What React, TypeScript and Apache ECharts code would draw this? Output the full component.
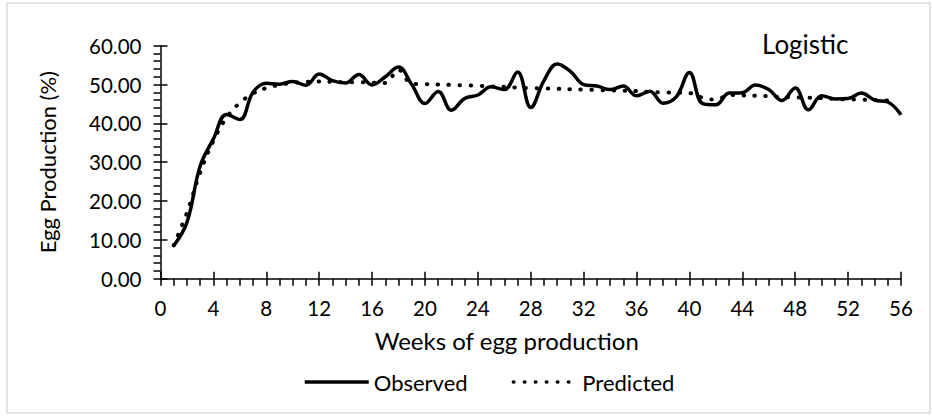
import React, { useEffect, useRef } from "react";
import * as echarts from "echarts";

const weeks = [1, 2, 3, 4, 5, 6, 7, 8, 9, 10, 11, 12, 13, 14, 15, 16, 17, 18, 19, 20, 21, 22, 23, 24, 25, 26, 27, 28, 29, 30, 31, 32, 33, 34, 35, 36, 37, 38, 39, 40, 41, 42, 43, 44, 45, 46, 47, 48, 49, 50, 51, 52, 53, 54, 55, 56];

const observed = [
  8.5, 14.5, 29.0, 36.0, 42.3, 41.0, 48.0, 50.3, 50.1, 50.8,
  49.8, 52.7, 51.0, 50.4, 52.6, 49.9, 52.0, 54.5, 50.0, 45.1,
  48.2, 43.4, 46.4, 47.3, 49.4, 48.7, 53.2, 44.1, 51.0, 55.3,
  53.4, 50.0, 49.6, 48.7, 49.6, 47.1, 48.3, 45.2, 46.8, 53.1,
  45.1, 44.8, 47.8, 47.9, 49.9, 48.7, 45.9, 49.1, 43.5, 47.1,
  46.3, 46.4, 47.8, 46.0, 45.5, 42.2,
];

const predicted = [
  8.6, 17.0, 27.3, 35.5, 41.5, 45.3, 47.7, 49.1, 49.9, 50.4,
  50.7, 50.8, 50.7, 50.6, 50.6, 50.5, 50.4, 53.8, 50.2, 50.1,
  50.0, 49.9, 49.8, 49.7, 49.5, 49.4, 49.2, 49.1, 49.0, 48.9,
  48.8, 48.7, 48.6, 48.5, 48.4, 48.3, 48.1, 48.0, 47.9, 47.8,
  46.6, 46.1, 47.3, 47.2, 47.1, 47.0, 46.8, 46.7, 46.6, 46.5,
  46.3, 46.2, 46.1, 46.0, 45.9,
];

const FONT = "Lato, 'Open Sans', sans-serif";

export default function App() {
  const ref = useRef<HTMLDivElement>(null);
  useEffect(() => {
    document.body.style.margin = "0";
    const chart = echarts.init(ref.current!, null, { renderer: "svg" });
    const xBase = {
      type: "value" as const,
      min: 0,
      max: 56,
      interval: 4,
      gridIndex: 0,
      position: "bottom" as const,
      splitLine: { show: false },
    };
    const yBase = {
      type: "value" as const,
      min: 0,
      max: 60,
      interval: 10,
      gridIndex: 0,
      position: "left" as const,
      splitLine: { show: false },
    };
    chart.setOption({
      animation: false,
      backgroundColor: "#ffffff",
      textStyle: { fontFamily: FONT },
      title: {
        text: "Logistic",
        left: 757,
        top: 26,
        textStyle: { fontFamily: FONT, fontSize: 26, fontWeight: "normal", color: "#000" },
      },
      graphic: [
        {
          type: "rect",
          shape: { x: 7, y: 3, width: 923, height: 410 },
          style: { fill: "none", stroke: "#d9d9d9", lineWidth: 1.5 },
          silent: true,
          z: -1,
        },
      ],
      grid: { left: 160.5, right: 31, top: 45.7, bottom: 140.3 },
      legend: {
        left: 303,
        top: 371,
        padding: 0,
        itemWidth: 64,
        itemHeight: 14,
        itemGap: 44,
        itemStyle: { opacity: 0 },
        lineStyle: { width: 3.5 },
        textStyle: { fontFamily: FONT, fontSize: 22, color: "#000", padding: [0, 0, 0, 0] },
        data: ["Observed", "Predicted"],
      },
      xAxis: [
        {
          ...xBase,
          name: "Weeks of egg production",
          nameLocation: "middle",
          nameGap: 50,
          nameTextStyle: { fontFamily: FONT, fontSize: 24, color: "#000", padding: [0, 48, 0, 0] },
          axisLine: { show: true, onZero: false, lineStyle: { color: "#000", width: 1.5 } },
          axisTick: { show: true, inside: false, length: 7, lineStyle: { color: "#000", width: 1.5 } },
          minorTick: { show: true, splitNumber: 4, length: 7, lineStyle: { color: "#000", width: 1.5 } },
          axisLabel: { margin: 19, fontFamily: FONT, fontSize: 20.5, color: "#000" },
        },
        {
          ...xBase,
          axisLine: { show: false },
          axisTick: { show: true, inside: true, length: 7, lineStyle: { color: "#000", width: 1.5 } },
          axisLabel: { show: false },
        },
      ],
      yAxis: [
        {
          ...yBase,
          name: "Egg Production (%)",
          nameLocation: "middle",
          nameGap: 102,
          nameTextStyle: { fontFamily: FONT, fontSize: 22, color: "#000" },
          axisLine: { show: true, onZero: false, lineStyle: { color: "#000", width: 1.5 } },
          axisTick: { show: true, inside: false, length: 7, lineStyle: { color: "#000", width: 1.5 } },
          minorTick: { show: true, splitNumber: 5, length: 7, lineStyle: { color: "#000", width: 1.5 } },
          axisLabel: {
            margin: 19,
            fontFamily: FONT,
            fontSize: 20.5,
            color: "#000",
            formatter: (v: number) => v.toFixed(2),
          },
        },
        {
          ...yBase,
          axisLine: { show: false },
          axisTick: { show: true, inside: true, length: 7, lineStyle: { color: "#000", width: 1.5 } },
          axisLabel: { show: false },
        },
      ],
      series: [
        {
          name: "Observed",
          type: "line",
          xAxisIndex: 0,
          yAxisIndex: 0,
          data: observed.map((v, i) => [weeks[i], v]),
          smooth: 0.4,
          symbol: "none",
          color: "#000",
          lineStyle: { color: "#000", width: 3.5 },
          z: 3,
        },
        {
          name: "Predicted",
          type: "line",
          xAxisIndex: 0,
          yAxisIndex: 0,
          data: predicted.map((v, i) => [weeks[i], v]),
          smooth: 0.4,
          symbol: "none",
          color: "#000",
          lineStyle: { color: "#000", width: 4, type: [0.5, 10.5], cap: "round" },
          z: 2,
        },
      ],
    });
    return () => chart.dispose();
  }, []);
  return <div ref={ref} style={{ width: 932, height: 419 }} />;
}
